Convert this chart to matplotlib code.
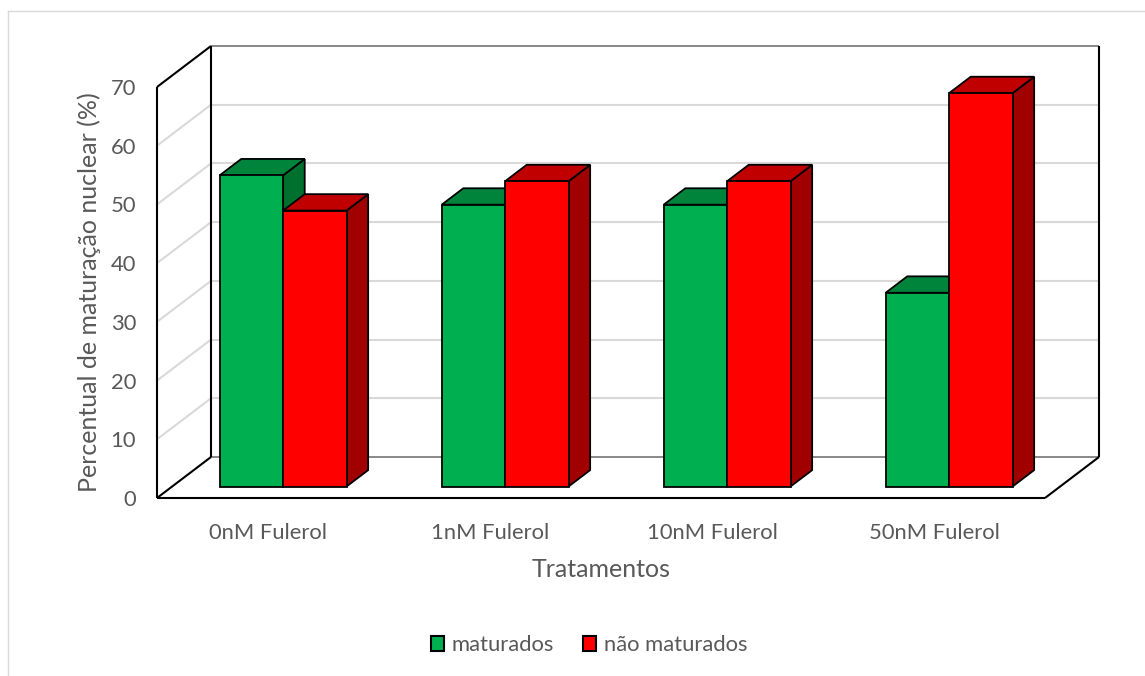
import matplotlib
matplotlib.use("Agg")
import matplotlib.pyplot as plt
from matplotlib.patches import Polygon, Rectangle
from matplotlib.lines import Line2D

# --- data -------------------------------------------------------------
categorias = ["0nM Fulerol", "1nM Fulerol", "10nM Fulerol", "50nM Fulerol"]
maturados = [53, 48, 48, 33]
nao_maturados = [47, 52, 52, 67]
series_nomes = ["maturados", "não maturados"]
yticks = [0, 10, 20, 30, 40, 50, 60, 70]

# --- style ------------------------------------------------------------
plt.rcParams["font.family"] = ["Lato", "DejaVu Sans"]
TXT = "#595959"
GRID = "#D9D9D9"
cores = {
    "maturados": ("#00B050", "#00843C", "#00702F"),      # front, top, side
    "não maturados": ("#FF0000", "#C00000", "#A00000"),
}

W, H = 1145, 676
fig = plt.figure(figsize=(W / 100, H / 100), dpi=100)
fig.patch.set_facecolor("white")

# plot area (front plane) in pixels
L, R, B, T = 157, 1045, 498, 87
ax = fig.add_axes([L / W, 1 - B / H, (R - L) / W, (B - T) / H])
ncat = len(categorias)
ymax = yticks[-1]
ax.set_xlim(0, ncat)
ax.set_ylim(0, ymax)
ax.set_facecolor("none")
for s in ax.spines.values():
    s.set_visible(False)

# oblique depth offset (in data units): full depth of the box
DX = 54 / ((R - L) / ncat)
DY = 41 / ((B - T) / ymax)


def proj(x, y, d):
    return (x + d * DX, y + d * DY)


def line(p0, p1, color, lw, z):
    ax.add_line(Line2D([p0[0], p1[0]], [p0[1], p1[1]], color=color, lw=lw,
                       zorder=z, clip_on=False, solid_capstyle="butt"))


# walls and gridlines
for v in yticks[1:-1]:
    line(proj(0, v, 1), proj(ncat, v, 1), GRID, 1.5, 1)
    line(proj(0, v, 0), proj(0, v, 1), GRID, 1.5, 1)
line(proj(0, ymax, 1), proj(ncat, ymax, 1), "#7F7F7F", 1.3, 2)
line(proj(0, 0, 1), proj(ncat, 0, 1), "#7F7F7F", 1.3, 2)
line(proj(0, 0, 0), proj(0, ymax, 0), "black", 1.5, 2)
line(proj(0, 0, 1), proj(0, ymax, 1), "black", 1.5, 2)
line(proj(0, ymax, 0), proj(0, ymax, 1), "black", 1.5, 2)
line(proj(0, 0, 0), proj(0, 0, 1), "black", 1.5, 2)
line(proj(0, 0, 0), proj(ncat, 0, 0), "black", 1.5, 2)
line(proj(ncat, 0, 0), proj(ncat, 0, 1), "black", 1.5, 2)
line(proj(ncat, 0, 1), proj(ncat, ymax, 1), "black", 1.5, 2)

# 3D bars
bar_w = 1 / 3.5
d0, dd = 0.28, 0.40


def bar3d(x0, v, cols, z):
    front, top, side = cols
    x1 = x0 + bar_w
    f = [proj(x0, 0, d0), proj(x1, 0, d0), proj(x1, v, d0), proj(x0, v, d0)]
    t = [proj(x0, v, d0), proj(x1, v, d0), proj(x1, v, d0 + dd), proj(x0, v, d0 + dd)]
    s = [proj(x1, 0, d0), proj(x1, 0, d0 + dd), proj(x1, v, d0 + dd), proj(x1, v, d0)]
    for poly, c in ((s, side), (t, top), (f, front)):
        ax.add_patch(Polygon(poly, closed=True, facecolor=c, edgecolor="black",
                             lw=1.3, joinstyle="miter", zorder=z, clip_on=False))


for i in range(ncat):
    xc = i + 0.5
    bar3d(xc - bar_w, maturados[i], cores["maturados"], 5 + 2 * i)
    bar3d(xc, nao_maturados[i], cores["não maturados"], 6 + 2 * i)

# axes text
ax.set_yticks(yticks)
ax.set_yticklabels([str(v) for v in yticks])
ax.set_xticks([i + 0.5 for i in range(ncat)])
ax.set_xticklabels(categorias)
ax.tick_params(axis="y", length=0, pad=15, labelsize=15.8, labelcolor=TXT)
ax.tick_params(axis="x", length=0, pad=18, labelsize=15.8, labelcolor=TXT)
ax.set_xlabel("Tratamentos", fontsize=18, color=TXT, labelpad=11)
ax.set_ylabel("Percentual de maturação nuclear (%)", fontsize=18, color=TXT, labelpad=7)

# legend
handles = [Rectangle((0, 0), 1, 1, facecolor=cores[n][0], edgecolor="black", lw=1.5)
           for n in series_nomes]
fig.legend(handles, series_nomes, loc="center", bbox_to_anchor=(589 / W, 1 - 645 / H),
           ncol=2, frameon=False, fontsize=15.8, labelcolor=TXT,
           handlelength=0.6, handleheight=0.65, handletextpad=0.35, columnspacing=1.3)

# chart border
fig.add_artist(Line2D([8 / W, 8 / W], [1 - 11 / H, 0], color=GRID, lw=1, transform=fig.transFigure))
fig.add_artist(Line2D([8 / W, 1], [1 - 11 / H, 1 - 11 / H], color=GRID, lw=1, transform=fig.transFigure))

fig.savefig("out.png", dpi=100, facecolor="white")
